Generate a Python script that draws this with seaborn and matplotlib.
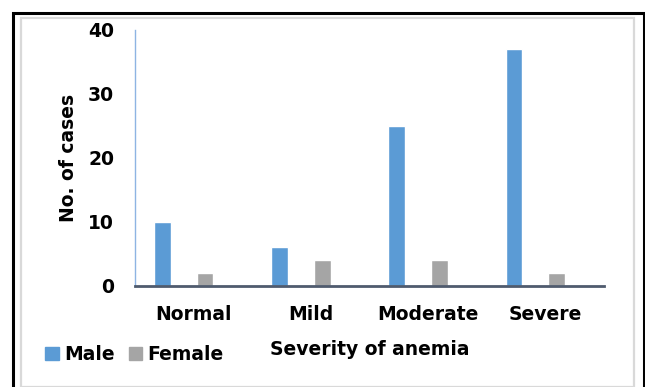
import matplotlib
matplotlib.use("Agg")
import matplotlib.pyplot as plt
from matplotlib.patches import Rectangle
import numpy as np
import pandas as pd
import seaborn as sns

# Cases by anemia severity and sex
categories = ["Normal", "Mild", "Moderate", "Severe"]
male = [10, 6, 25, 37]
female = [2, 4, 4, 2]
y_ticks = [0, 10, 20, 30, 40]

df = pd.DataFrame({
    "Severity": categories * 2,
    "Cases": male + female,
    "Sex": ["Male"] * len(categories) + ["Female"] * len(categories),
})

sns.set_theme(style="white")
plt.rcParams["font.family"] = ["DejaVu Sans"]
plt.rcParams["font.weight"] = "bold"
plt.rcParams["text.color"] = "black"
plt.rcParams["axes.labelcolor"] = "black"

FS = 13.5
fig = plt.figure(figsize=(6.45, 3.87), dpi=100)
ax = fig.add_axes([0.2093, 0.2618, 0.7271, 0.6607])

sns.barplot(data=df, x="Severity", y="Cases", hue="Sex",
            order=categories, hue_order=["Male", "Female"],
            palette={"Male": "#5B9BD5", "Female": "#A5A5A5"},
            width=0.728, gap=0.61, saturation=1, errorbar=None, ax=ax)

# category labels sit slightly right of each bar pair
shift = 0.085
pos = np.arange(len(categories)) + shift
ax.set_xticks(pos, categories)
ax.set_xlim(-0.5 + shift, len(categories) - 0.5 + shift)
ax.set_ylim(0, 40)
ax.set_yticks(y_ticks)
ax.tick_params(axis="both", length=0, labelsize=FS, colors="black")
ax.tick_params(axis="y", pad=15)
ax.tick_params(axis="x", pad=14)
for lab in ax.get_xticklabels() + ax.get_yticklabels():
    lab.set_fontweight("bold")

for side in ("top", "right"):
    ax.spines[side].set_visible(False)
ax.spines["left"].set_color("#8EB4E3")
ax.spines["left"].set_linewidth(1.0)
ax.spines["bottom"].set_color("#4F5B6E")
ax.spines["bottom"].set_linewidth(2.0)

ax.set_xlabel("Severity of anemia", fontsize=FS, fontweight="bold", color="black", va="top")
ax.xaxis.set_label_coords(0.5, -0.212)
ax.set_ylabel("No. of cases", fontsize=FS, fontweight="bold", color="black")
ax.yaxis.set_label_coords(-0.122, 0.5)

ax.legend_.remove()
handles = [Rectangle((0, 0), 1, 1, color="#5B9BD5"), Rectangle((0, 0), 1, 1, color="#A5A5A5")]
leg = fig.legend(handles, ["Male", "Female"], loc="center left",
                 bbox_to_anchor=(0.0705, 0.083), ncol=2, frameon=False,
                 prop={"size": FS, "weight": "bold"}, handlelength=0.7, handleheight=0.7,
                 handletextpad=0.3, columnspacing=0.75, borderaxespad=0, borderpad=0)
for t in leg.get_texts():
    t.set_color("black")

# outer black frame and inner light frame
W, H = 645, 387
fig.patches.append(Rectangle((13 / W, -0.05), (643.5 - 13) / W, (387 - 13) / H + 0.05,
                             transform=fig.transFigure, fill=False,
                             edgecolor="black", linewidth=2.2))
fig.patches.append(Rectangle((20.5 / W, 0.5 / H), (634 - 20.5) / W, (386.5 - 17.5) / H,
                             transform=fig.transFigure, fill=False,
                             edgecolor="#D9D9D9", linewidth=1.6))

fig.savefig("out.png", dpi=100)
